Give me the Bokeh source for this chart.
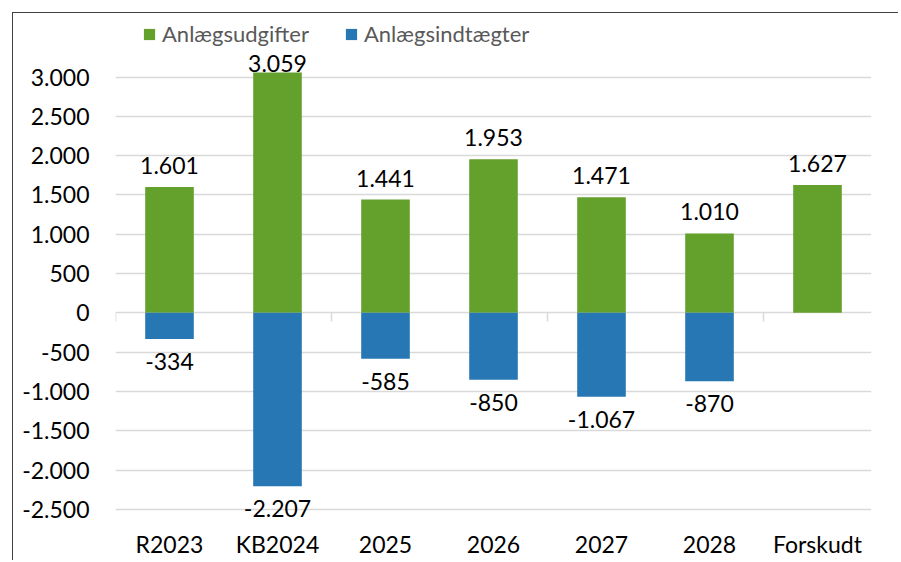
from bokeh.plotting import figure
from bokeh.models import (FixedTicker, CustomJSTickFormatter, Legend, LegendItem,
                          InlineStyleSheet)
from bokeh.core.properties import value
from bokeh.embed import file_html
from bokeh.resources import INLINE

categories = ["R2023", "KB2024", "2025", "2026", "2027", "2028", "Forskudt"]
udgifter = [1601, 3059, 1441, 1953, 1471, 1010, 1627]
indtaegter = [-334, -2207, -585, -850, -1067, -870, float("nan")]
y_ticks = list(range(-2500, 3001, 500))
series_names = ["Anlægsudgifter", "Anlægsindtægter"]

GREEN = "#63a02c"
BLUE = "#2677b3"
GRID = "#d9d9d9"
FRAME_LINE = "#404040"
FONT = "Lato"
LABEL_CAP = 2905  # labels kept inside the plot area (as Excel does)


def fmt(v):
    return f"{v:,.0f}".replace(",", ".")


W, H = 898, 560
p = figure(x_range=categories, y_range=(-2655, 3847), width=W, height=H,
           output_backend="svg", toolbar_location=None,
           min_border_left=115, min_border_right=27,
           min_border_top=10, min_border_bottom=35)
p.outline_line_color = None
p.background_fill_color = "white"
p.border_fill_color = "white"
# chart-area border (only on the element that has the full figure width)
p.stylesheets = [InlineStyleSheet(css=(
    ":host { position: relative; overflow: hidden; }"
    ":host::after { content: ''; position: absolute;"
    f" left: calc(12px + (100% - {W}px) * 1000); top: 12px;"
    " right: -20px; bottom: -20px; box-sizing: border-box;"
    f" border-top: 1.5px solid {FRAME_LINE}; border-left: 1.5px solid {FRAME_LINE};"
    " pointer-events: none; z-index: 100; }"))]

# grid
p.xgrid.visible = False
p.ygrid.ticker = FixedTicker(ticks=y_ticks)
p.ygrid.grid_line_color = GRID
p.ygrid.grid_line_width = 1.5

# y axis
p.yaxis.ticker = FixedTicker(ticks=y_ticks)
p.yaxis.formatter = CustomJSTickFormatter(
    code="return tick.toFixed(0).replace(/\\B(?=(\\d{3})+(?!\\d))/g, '.');")
p.yaxis.axis_line_color = None
p.yaxis.major_tick_line_color = None
p.yaxis.minor_tick_line_color = None
p.yaxis.major_tick_out = 0
p.yaxis.major_tick_in = 0
p.yaxis.major_label_standoff = 26
p.yaxis.major_label_text_font = FONT
p.yaxis.major_label_text_font_size = "23px"
p.yaxis.major_label_text_color = "black"

# x axis
p.xaxis.axis_line_color = None
p.xaxis.major_tick_line_color = None
p.xaxis.minor_tick_line_color = None
p.xaxis.major_tick_out = 0
p.xaxis.major_tick_in = 0
p.xaxis.major_label_standoff = 8
p.xaxis.major_label_text_font = FONT
p.xaxis.major_label_text_font_size = "23px"
p.xaxis.major_label_text_color = "black"

# tick marks on zero line every second category
bx = list(range(0, len(categories), 2))
p.segment(x0=bx, y0=[0] * len(bx), x1=bx, y1=[-110] * len(bx),
          line_color=GRID, line_width=1.5)

r1 = p.vbar(x=categories, top=udgifter, bottom=0, width=0.45,
            fill_color=GREEN, line_color=None)
r2 = p.vbar(x=categories, top=indtaegter, bottom=0, width=0.45,
            fill_color=BLUE, line_color=None)

# data labels
p.text(x=categories, y=[min(v, LABEL_CAP) for v in udgifter],
       text=[fmt(v) for v in udgifter],
       text_align="center", text_baseline="alphabetic", y_offset=-21.5,
       text_font=value(FONT), text_font_size="23px", text_color="black")
neg_x = [c for c, v in zip(categories, indtaegter) if v == v]
neg_v = [v for v in indtaegter if v == v]
p.text(x=neg_x, y=neg_v, text=[fmt(v) for v in neg_v],
       text_align="center", text_baseline="alphabetic", y_offset=22.5,
       text_font=value(FONT), text_font_size="23px", text_color="black")

legend = Legend(items=[LegendItem(label=series_names[0], renderers=[r1]),
                       LegendItem(label=series_names[1], renderers=[r2])],
                location=(27, 474), orientation="horizontal",
                glyph_width=14, glyph_height=14, label_height=14,
                label_text_font=FONT, label_text_font_size="22px",
                label_text_color="#595959", label_standoff=6, spacing=35,
                padding=0, margin=0, border_line_color=None,
                background_fill_alpha=0)
p.add_layout(legend)

open("out.html", "w").write(file_html(p, INLINE))
